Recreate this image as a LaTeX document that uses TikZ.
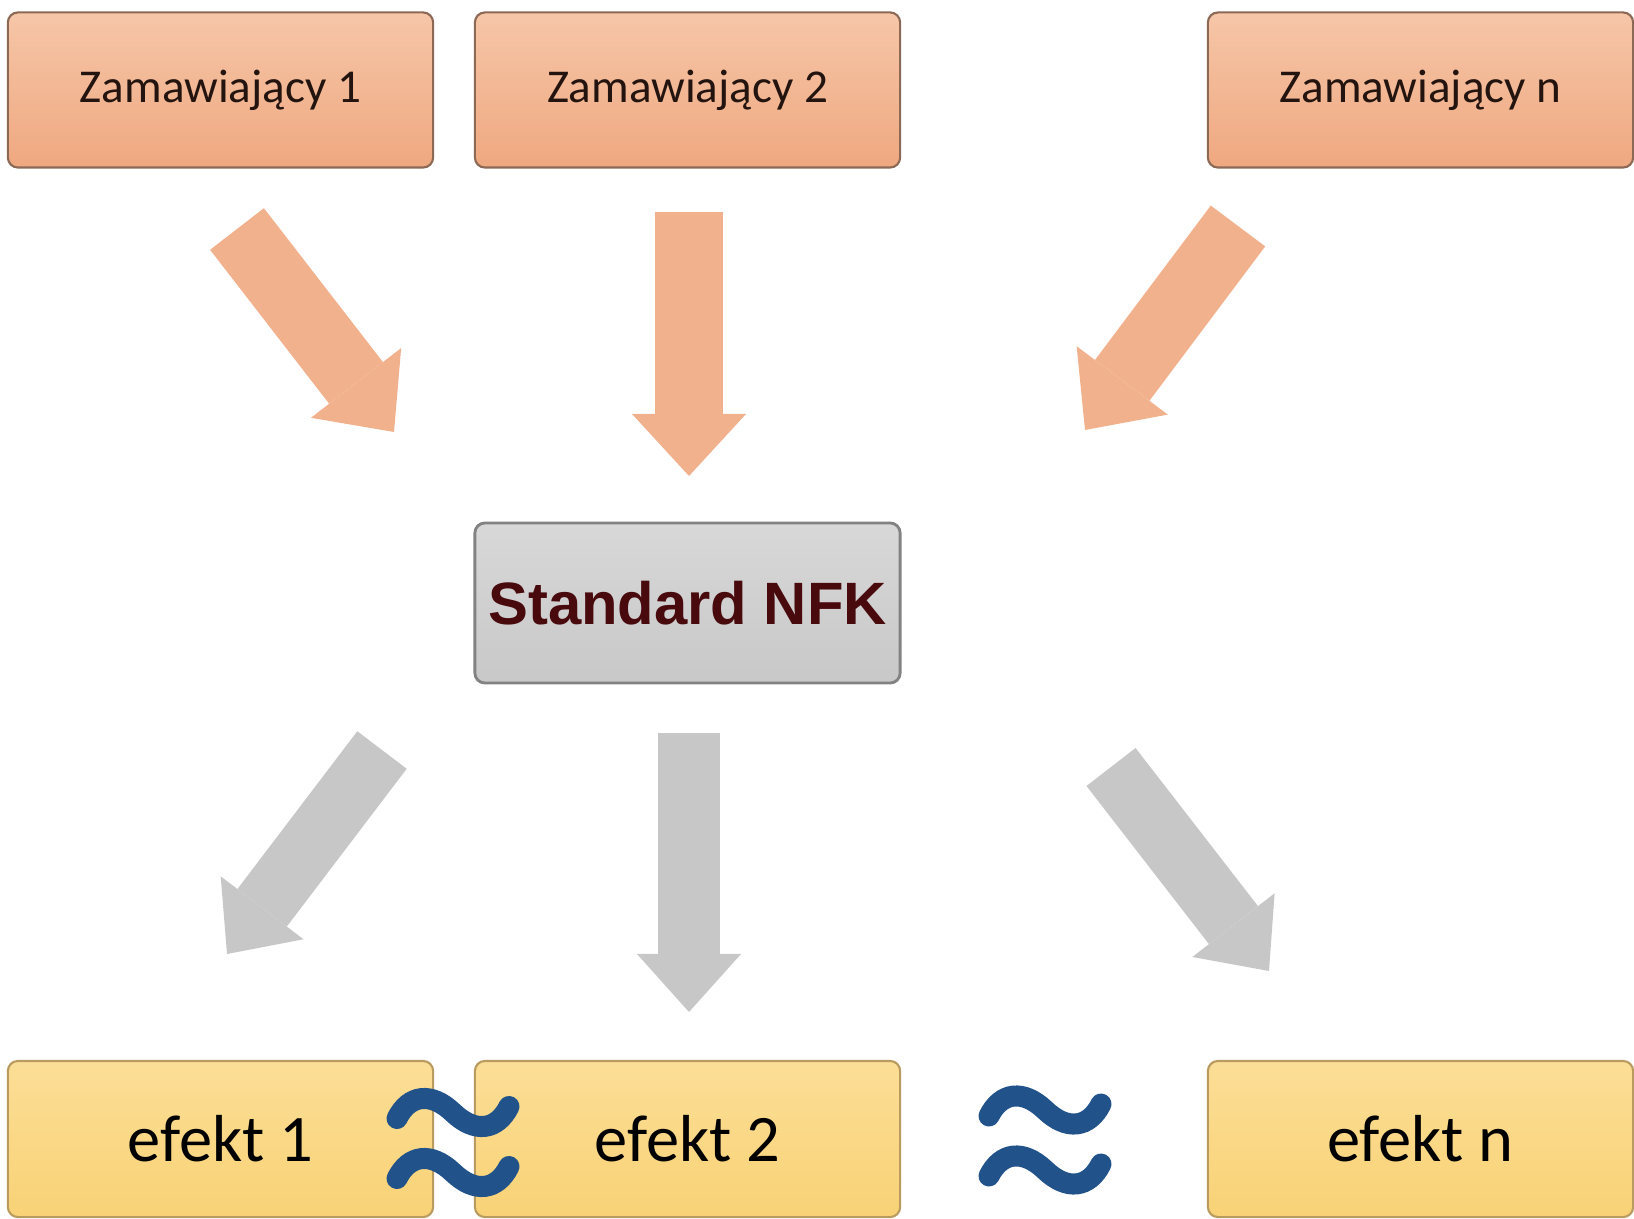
\documentclass[tikz,border=0pt]{standalone}
\usepackage{fontspec}
\setmainfont{Carlito}
\newfontfamily\nfkfont{Liberation Sans}
\usetikzlibrary{arrows.meta}
\definecolor{clienttop}{RGB}{246,198,168}
\definecolor{clientbot}{RGB}{239,168,128}
\definecolor{clientline}{RGB}{140,105,85}
\definecolor{clienttext}{RGB}{35,20,15}
\definecolor{stdtop}{RGB}{216,216,216}
\definecolor{stdbot}{RGB}{200,200,200}
\definecolor{stdline}{RGB}{130,130,130}
\definecolor{stdtext}{RGB}{72,10,12}
\definecolor{efftop}{RGB}{251,222,150}
\definecolor{effbot}{RGB}{249,210,118}
\definecolor{effline}{RGB}{185,155,95}
\definecolor{arrowor}{RGB}{241,177,141}
\definecolor{arrowgr}{RGB}{199,199,199}
\definecolor{wavecol}{RGB}{33,83,138}
\begin{document}
\begin{tikzpicture}[x=0.01cm,y=-0.01cm,
    panel/.style={draw, rounded corners=0.1cm, minimum width=4.25cm, inner sep=0pt},
    client/.style={panel, minimum height=1.55cm, draw=clientline, line width=0.6pt,
      top color=clienttop, bottom color=clientbot, text=clienttext,
      font=\fontsize{13.4}{16}\selectfont},
    standard/.style={panel, minimum height=1.6cm, draw=stdline, line width=0.8pt,
      top color=stdtop, bottom color=stdbot, text=stdtext,
      font=\nfkfont\bfseries\fontsize{17}{20}\selectfont},
    effect/.style={panel, minimum height=1.56cm, draw=effline, line width=0.6pt,
      top color=efftop, bottom color=effbot, text=black,
      font=\fontsize{18.9}{22}\selectfont},
    flowin/.style={draw=arrowor, line width=0.68cm,
      -{Triangle[length=0.62cm,width=1.14cm,line width=0pt]}},
    flowout/.style={draw=arrowgr, line width=0.62cm,
      -{Triangle[length=0.58cm,width=1.04cm,line width=0pt]}},
    wave/.style={draw=wavecol, line width=0.21cm, line cap=round},
    approx/.pic={
      \foreach \dy in {-30,30}
        \draw[wave] (-56,\dy+6) .. controls (-44,\dy-18) and (-22,\dy-21) .. (0,\dy)
          .. controls (22,\dy+21) and (44,\dy+18) .. (56,\dy-6);
    }]
  \useasboundingbox (0,0) rectangle (1634,1219);
  % zamawiajacy
  \node[client] (zam1) at (220.5,90) {Zamawiający 1};
  \node[client] (zam2) at (687.5,90) {Zamawiający 2};
  \node[client] (zamn) at (1420.5,90) {Zamawiający n};
  % standard
  \node[standard] (nfk) at (687.5,603) {Standard NFK};
  % efekty
  \node[effect] (ef1) at (220.5,1139) {efekt 1};
  \node[effect] (ef2) at (687.5,1139) {efekt 2};
  \node[effect] (efn) at (1420.5,1139) {efekt n};
  % arrows in
  \coordinate (in1s) at (237,229);
  \coordinate (in1e) at (394,432);
  \coordinate (in2s) at (689,212);
  \coordinate (in2e) at (689,476);
  \coordinate (in3s) at (1238,226);
  \coordinate (in3e) at (1085,430);
  \draw[flowin] (in1s) -- (in1e);
  \draw[flowin] (in2s) -- (in2e);
  \draw[flowin] (in3s) -- (in3e);
  % arrows out
  \coordinate (out1s) at (382,750);
  \coordinate (out1e) at (227,954);
  \coordinate (out2s) at (689,733);
  \coordinate (out2e) at (689,1012);
  \coordinate (out3s) at (1111,767);
  \coordinate (out3e) at (1269,971);
  \draw[flowout] (out1s) -- (out1e);
  \draw[flowout] (out2s) -- (out2e);
  \draw[flowout] (out3s) -- (out3e);
  % approx signs
  \pic at (453,1142.5) {approx};
  \pic at (1045,1140) {approx};
\end{tikzpicture}
\end{document}
